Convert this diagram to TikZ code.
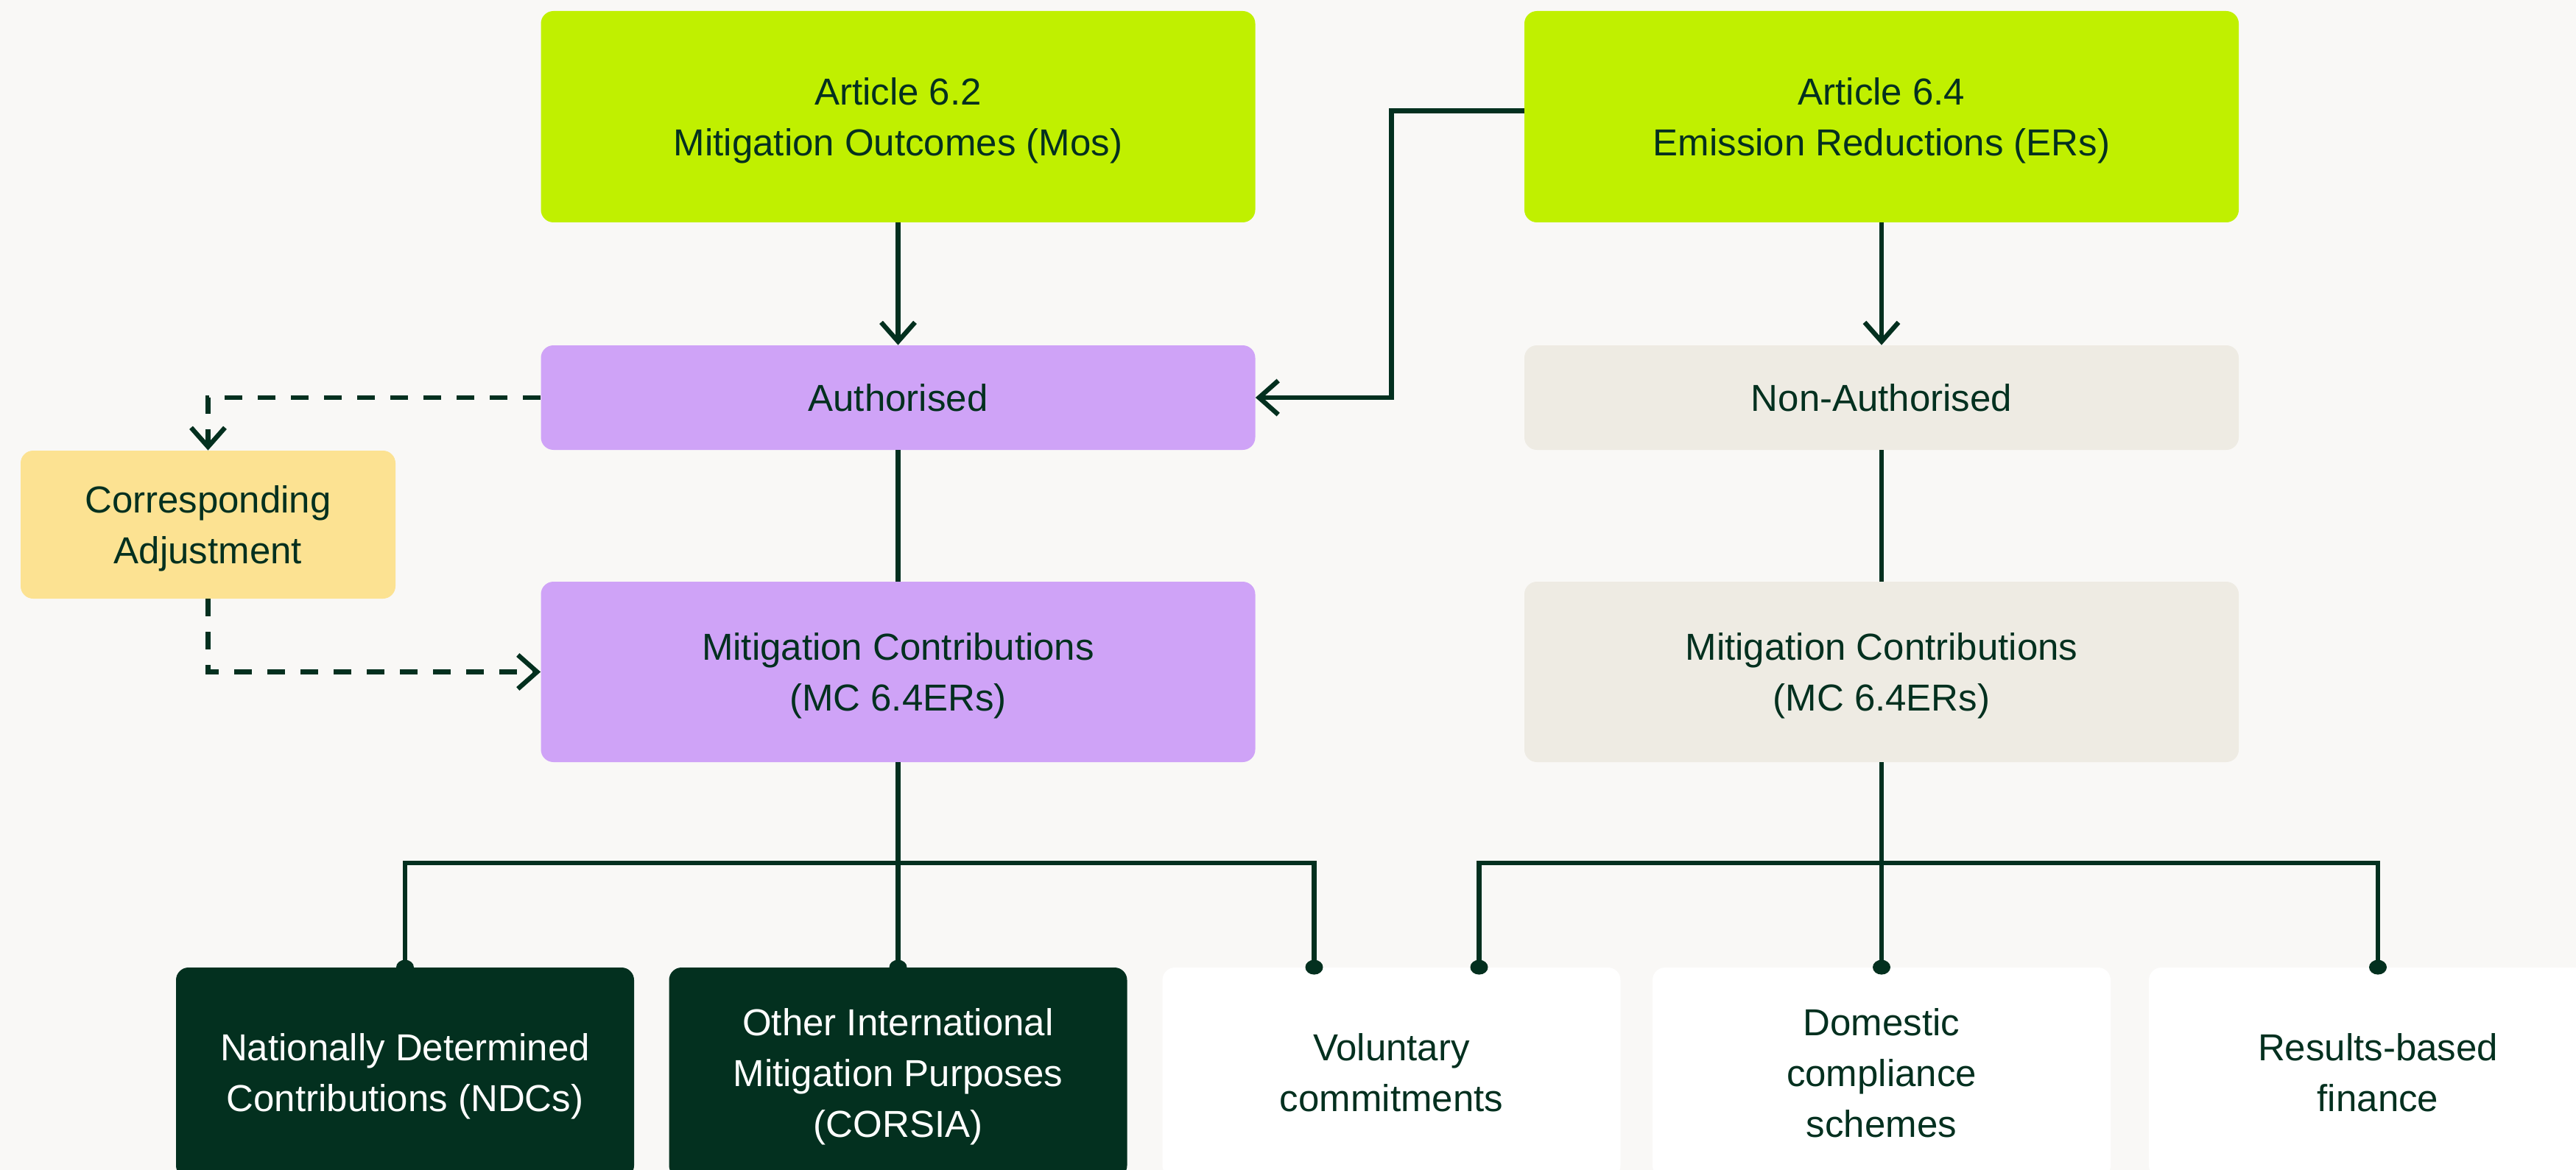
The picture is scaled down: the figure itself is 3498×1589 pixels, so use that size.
\documentclass[tikz,border=0pt]{standalone}
\usepackage{fontspec}
\setmainfont{Liberation Sans}
\usetikzlibrary{arrows.meta,calc}
\definecolor{paper}{HTML}{F9F8F6}
\definecolor{lime}{HTML}{C0F000}
\definecolor{lilac}{HTML}{CFA3F7}
\definecolor{sand}{HTML}{EEEBE3}
\definecolor{butter}{HTML}{FCE292}
\definecolor{forest}{HTML}{03301F}

\begin{document}
\begin{tikzpicture}[x=0.5pt,y=-0.5pt,
  box/.style={rectangle, rounded corners=8.5pt, align=center, text=forest,
    inner sep=0pt, font=\fontsize{25.5pt}{34.5pt}\selectfont},
  widebox/.style={box, minimum width=485pt},
  leafbox/.style={box, minimum width=311pt, minimum height=143pt},
  link/.style={draw=forest, line width=3.2pt},
  tip/.style={-{Straight Barb[length=13pt,width=23pt]}},
  dashlink/.style={link, dash pattern=on 12pt off 10.5pt}
]
% canvas
\fill[paper] (0,0) rectangle (3498,1589);
\useasboundingbox (0,0) rectangle (3498,1589);

% top row: the two articles (descenders of the last line are ignored for centring)
\node[widebox, fill=lime, minimum height=143.5pt] (a62) at (1219.5,158.5)
  {Article 6.2\\\smash{Mitigation Outcomes (Mos)}};
\node[widebox, fill=lime, minimum height=143.5pt] (a64) at (2555,158.5)
  {Article 6.4\\\smash{Emission Reductions (ERs)}};

% authorisation status
\node[widebox, fill=lilac, minimum height=71pt] (auth) at (1219.5,540) {Authorised};
\node[widebox, fill=sand, minimum height=71pt] (nonauth) at (2555,540) {Non-Authorised};

% corresponding adjustment
\node[box, fill=butter, minimum width=254.5pt, minimum height=100.5pt] (corr) at (282.5,712.5)
  {Corresponding\\\smash{Adjustment}};

% mitigation contributions
\node[widebox, fill=lilac, minimum height=122.5pt] (mcl) at (1219.5,912.5)
  {Mitigation Contributions\\\smash{(MC 6.4ERs)}};
\node[widebox, fill=sand, minimum height=122.5pt] (mcr) at (2555,912.5)
  {Mitigation Contributions\\\smash{(MC 6.4ERs)}};

% uses
\node[leafbox, fill=forest, text=white] (ndc) at (550,1457)
  {Nationally Determined\\\smash{Contributions (NDCs)}};
\node[leafbox, fill=forest, text=white] (other) at (1219.5,1457)
  {Other International\\Mitigation Purposes\\\smash{(CORSIA)}};
\node[leafbox, fill=white] (vol) at (1889.5,1457) {Voluntary\\commitments};
\node[leafbox, fill=white] (dom) at (2555,1457) {Domestic\\compliance\\schemes};
\node[leafbox, fill=white] (res) at (3229,1457) {Results-based\\finance};

% branching points
\coordinate (tierow) at (0,1172);
\coordinate (volA) at ($(vol.north)+(-105,0)$);
\coordinate (volB) at ($(vol.north)+(119,0)$);

% main flow
\draw[link, tip] (a62) -- (auth);
\draw[link] (auth) -- (mcl);
\draw[link, tip] (a64) -- (nonauth);
\draw[link] (nonauth) -- (mcr);
\draw[link, tip] ([yshift=4pt]a64.west) -| (vol.north |- auth.east) -- (auth.east);

% corresponding adjustment loop
\draw[dashlink, tip] (auth.west) -| (corr.north);
\draw[dashlink, tip] (corr.south) |- (mcl.west);

% left tree
\draw[link] (mcl.south) -- (other.north);
\draw[link] (ndc.north) -- (ndc.north |- tierow) -- (volA |- tierow) -- (volA);

% right tree
\draw[link] (mcr.south) -- (dom.north);
\draw[link] (volB) -- (volB |- tierow) -- (res.north |- tierow) -- (res.north);

% end dots
\foreach \p in {ndc.north, other.north, volA, volB, dom.north, res.north}
  \fill[forest] (\p) ellipse [x radius=6pt, y radius=5pt];
\end{tikzpicture}
\end{document}
